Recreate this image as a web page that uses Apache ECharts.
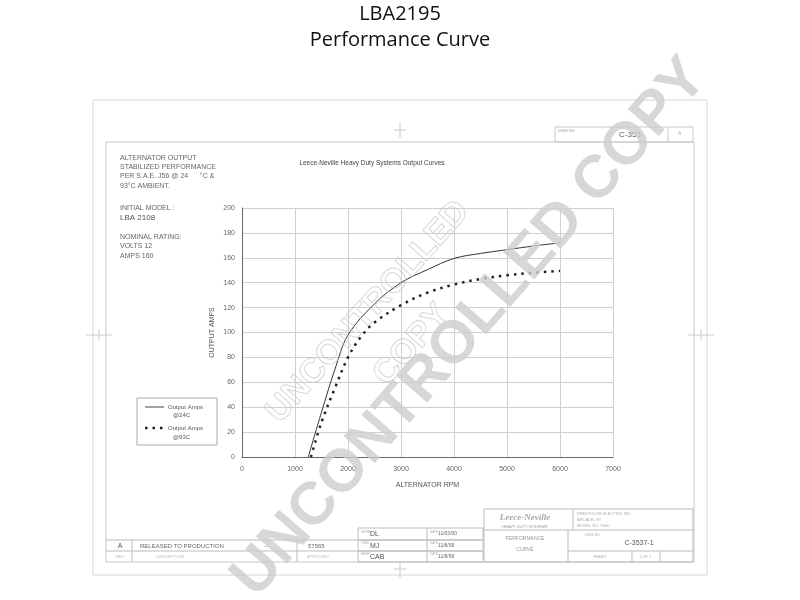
<!DOCTYPE html>
<html>
<head>
<meta charset="utf-8">
<script src="https://cdn.jsdelivr.net/npm/echarts@6/dist/echarts.min.js"></script>
<style>html,body{margin:0;padding:0;background:#fff}#c{width:800px;height:600px}</style>
</head>
<body>
<div id="c"></div>
<script>
// ---- data ----
const rpm24 = [1250, 1500, 1750, 2000, 2500, 3000, 3500, 4000, 4500, 5000, 5500, 6000];
const amps24 = [0, 36, 70, 98, 123, 140, 150.5, 159.5, 163.5, 166.5, 169.5, 172];
const rpm93 = [1300, 1500, 1750, 2000, 2250, 2500, 3000, 3500, 4000, 4500, 5000, 5500, 6000];
const amps93 = [0, 28, 55, 80, 97, 108, 122, 132, 138.5, 143, 146, 148, 149.5];
const xTicks = [0, 1000, 2000, 3000, 4000, 5000, 6000, 7000];
const yTicks = [0, 20, 40, 60, 80, 100, 120, 140, 160, 180, 200];
const seriesNames = ['Output Amps @24C', 'Output Amps @93C'];

const chart = echarts.init(document.getElementById('c'), null, {renderer: 'canvas'});
const gray = '#bbb';
const small = '7px "Liberation Sans", Arial, sans-serif';
const txt = (x, y, t, font, fill, align) => ({type: 'text', z: 5, style: {x, y, text: t, font: font || small, fill: fill || '#666', textAlign: align || 'left', textVerticalAlign: 'middle'}});
const ln = (x1, y1, x2, y2, c) => ({type: 'line', z: 4, shape: {x1, y1, x2, y2}, style: {stroke: c || gray, lineWidth: 1}});
const rc = (x, y, w, h, c) => ({type: 'rect', z: 4, shape: {x, y, width: w, height: h}, style: {fill: 'none', stroke: c || gray, lineWidth: 1}});

const graphics = [
  // page titles
  txt(400, 14, 'LBA2195', '20px "Open Sans", sans-serif', '#111', 'center'),
  txt(400, 40, 'Performance Curve', '20px "Open Sans", sans-serif', '#111', 'center'),
  // frames
  rc(93, 100, 614, 475, '#d4d4d4'),
  rc(106, 142, 588, 420, '#c8c8c8'),
  // centre marks
  ln(400, 122, 400, 138, '#ccc'), ln(394, 130, 406, 130, '#ccc'),
  ln(86, 335, 112, 335, '#ccc'), ln(99, 329, 99, 341, '#ccc'),
  ln(688, 335, 714, 335, '#ccc'), ln(701, 329, 701, 341, '#ccc'),
  ln(400, 563, 400, 578, '#ccc'), ln(394, 569, 406, 569, '#ccc'),
  // drawing number box top right
  rc(555, 127, 138, 15, '#c8c8c8'),
  txt(558, 131, 'DWG NO', '4px sans-serif', '#999'),
  txt(630, 135, 'C-353', '8px "Liberation Sans", sans-serif', '#555', 'center'),
  ln(668, 127, 668, 142, '#ccc'),
  txt(678, 134, 'A', '5px sans-serif', '#aaa'),
  // left notes
  txt(120, 158, 'ALTERNATOR OUTPUT'),
  txt(120, 167, 'STABILIZED PERFORMANCE'),
  txt(120, 176, 'PER S.A.E. J56 @ 24      °C &'),
  txt(120, 186, '93°C AMBIENT.'),
  txt(120, 208, 'INITIAL MODEL :'),
  txt(120, 218, 'LBA 2108', '8px "Liberation Sans", sans-serif', '#555'),
  txt(120, 237, 'NOMINAL RATING:'),
  txt(120, 246, 'VOLTS 12'),
  txt(120, 256, 'AMPS 160'),
  // chart title
  txt(372, 163, 'Leece-Neville Heavy Duty Systems Output Curves', '6.5px "Liberation Sans", sans-serif', '#444', 'center'),
  // legend box
  rc(137, 398, 80, 47, '#aaa'),
  ln(145, 407, 164, 407, '#444'),
  txt(168, 407, 'Output Amps', '6px "Liberation Sans", sans-serif', '#555'),
  txt(173, 415, '@24C', '6px "Liberation Sans", sans-serif', '#555'),
  {type: 'line', z: 5, shape: {x1: 145, y1: 428, x2: 164, y2: 428}, style: {stroke: '#222', lineWidth: 2.5, lineDash: [2.5, 5]}},
  txt(168, 428, 'Output Amps', '6px "Liberation Sans", sans-serif', '#555'),
  txt(173, 437, '@93C', '6px "Liberation Sans", sans-serif', '#555'),
  // revision block
  rc(358, 528, 125, 34, '#bbb'),
  ln(106, 540, 483, 540), ln(106, 551, 483, 551),
  ln(132, 540, 132, 562), ln(297, 540, 297, 562), ln(427, 528, 427, 562),
  ln(358, 540, 483, 540), ln(358, 551, 483, 551),
  txt(120, 546, 'A', small, '#555', 'center'),
  txt(140, 546, 'RELEASED TO PRODUCTION', '6px "Liberation Sans", sans-serif', '#666'),
  txt(267, 546, '—', '6px sans-serif', '#888', 'center'),
  txt(308, 546, '57565', '6px "Liberation Sans", sans-serif', '#666'),
  txt(120, 557, 'REV', '4px sans-serif', '#bbb', 'center'),
  txt(170, 557, 'DESCRIPTION', '4px sans-serif', '#bbb', 'center'),
  txt(318, 557, 'APPROVED', '4px sans-serif', '#bbb', 'center'),
  txt(361, 532, 'DRWN', '3px sans-serif', '#aaa'), txt(370, 534, 'DL', '7px "Liberation Sans", sans-serif', '#555'),
  txt(361, 543, 'CHKD', '3px sans-serif', '#aaa'), txt(370, 546, 'MJ', '7px "Liberation Sans", sans-serif', '#555'),
  txt(361, 554, 'ENGR', '3px sans-serif', '#aaa'), txt(370, 557, 'CAB', '7px "Liberation Sans", sans-serif', '#555'),
  txt(430, 532, 'DATE', '3px sans-serif', '#aaa'), txt(438, 534, '11/03/00', '5px "Liberation Sans", sans-serif', '#666'),
  txt(430, 543, 'DATE', '3px sans-serif', '#aaa'), txt(438, 546, '11/8/99', '5px "Liberation Sans", sans-serif', '#666'),
  txt(430, 554, 'DATE', '3px sans-serif', '#aaa'), txt(438, 557, '11/8/99', '5px "Liberation Sans", sans-serif', '#666'),
  // title block right
  rc(484, 509, 209, 53, '#bbb'),
  ln(484, 530, 693, 530), ln(573, 509, 573, 530), ln(568, 530, 568, 562),
  ln(568, 551, 693, 551), ln(632, 551, 632, 562), ln(660, 551, 660, 562),
  txt(525, 518, 'Leece-Neville', 'italic bold 9px "Liberation Serif", serif', '#aaa', 'center'),
  txt(525, 527, 'HEAVY DUTY SYSTEMS', '4px "Liberation Sans", sans-serif', '#999', 'center'),
  txt(577, 514, 'PRESTOLITE ELECTRIC INC', '4px sans-serif', '#aaa'),
  txt(577, 520, 'ARCADE, NY', '4px sans-serif', '#aaa'),
  txt(577, 526, 'MODEL NO. 9000', '4px sans-serif', '#aaa'),
  txt(525, 539, 'PERFORMANCE', '5px "Liberation Sans", sans-serif', '#999', 'center'),
  txt(525, 550, 'CURVE', '5px "Liberation Sans", sans-serif', '#999', 'center'),
  txt(585, 535, 'DWG NO', '3.5px sans-serif', '#aaa'),
  txt(639, 543, 'C-3537-1', '7px "Liberation Sans", sans-serif', '#555', 'center'),
  txt(600, 557, 'SHEET', '4px sans-serif', '#aaa', 'center'),
  txt(645, 557, '1 OF 1', '4px sans-serif', '#aaa', 'center'),
  // outlined stamp inside plot
  {type: 'text', z: 20, x: 368, y: 312, rotation: 48 * Math.PI / 180, style: {text: 'UNCONTROLLED', font: 'bold 34px "Liberation Sans", sans-serif', fill: 'rgba(255,255,255,0)', stroke: 'rgba(200,200,200,0.7)', lineWidth: 1, textAlign: 'center', textVerticalAlign: 'middle'}},
  {type: 'text', z: 20, x: 412, y: 345, rotation: 48 * Math.PI / 180, style: {text: 'COPY', font: 'bold 34px "Liberation Sans", sans-serif', fill: 'rgba(255,255,255,0)', stroke: 'rgba(200,200,200,0.7)', lineWidth: 1, textAlign: 'center', textVerticalAlign: 'middle'}},
  // big watermark
  {type: 'text', z: 30, x: 470, y: 328, rotation: 49 * Math.PI / 180, style: {text: 'UNCONTROLLED COPY', font: 'bold 60px "Liberation Sans", sans-serif', fill: 'rgba(205,205,205,0.8)', textAlign: 'center', textVerticalAlign: 'middle'}}
];

chart.setOption({
  animation: false,
  backgroundColor: '#fff',
  grid: {left: 242, top: 208, right: 187, bottom: 143, containLabel: false},
  xAxis: {
    type: 'value', min: xTicks[0], max: xTicks[xTicks.length - 1], interval: 1000,
    name: 'ALTERNATOR RPM', nameLocation: 'middle', nameGap: 25,
    nameTextStyle: {fontSize: 7, color: '#555', fontFamily: 'Liberation Sans'},
    axisLine: {lineStyle: {color: '#666', width: 1}}, axisTick: {show: false},
    axisLabel: {fontSize: 7, color: '#666', margin: 9, fontFamily: 'Liberation Sans', formatter: v => String(v)},
    splitLine: {show: true, lineStyle: {color: '#cfcfcf', width: 1}}
  },
  yAxis: {
    type: 'value', min: yTicks[0], max: yTicks[yTicks.length - 1], interval: 20,
    name: 'OUTPUT AMPS', nameLocation: 'middle', nameGap: 26, nameRotate: 90,
    nameTextStyle: {fontSize: 7, color: '#555', fontFamily: 'Liberation Sans'},
    axisLine: {show: true, lineStyle: {color: '#666', width: 1}}, axisTick: {show: false},
    axisLabel: {fontSize: 7, color: '#666', margin: 7, fontFamily: 'Liberation Sans', formatter: v => String(v)},
    splitLine: {show: true, lineStyle: {color: '#cfcfcf', width: 1}}
  },
  series: [
    {name: seriesNames[0], type: 'line', smooth: 0.35, symbol: 'none', z: 3,
     data: rpm24.map((r, i) => [r, amps24[i]]), lineStyle: {color: '#333', width: 1}},
    {name: seriesNames[1], type: 'line', smooth: 0.35, symbol: 'none', z: 3,
     data: rpm93.map((r, i) => [r, amps93[i]]), lineStyle: {color: '#222', width: 2.5, type: [2.5, 5]}}
  ],
  graphic: graphics
});
</script>
</body>
</html>
